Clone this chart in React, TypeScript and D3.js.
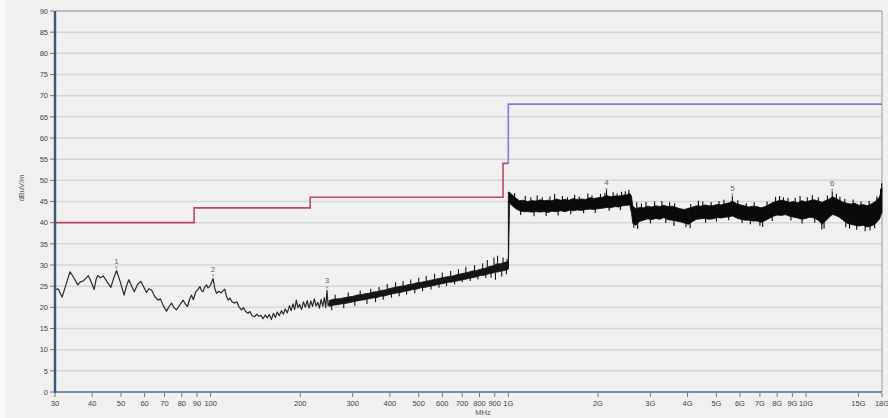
import React from "react";
import * as d3 from "d3";

// ---------- DATA ----------
const yTickValues = [0, 5, 10, 15, 20, 25, 30, 35, 40, 45, 50, 55, 60, 65, 70, 75, 80, 85, 90];
const xTickValues = [30, 40, 50, 60, 70, 80, 90, 100, 200, 300, 400, 500, 600, 700, 800, 900, 1000, 2000, 3000, 4000, 5000, 6000, 7000, 8000, 9000, 10000, 15000, 18000];
const xTickLabels = ["30", "40", "50", "60", "70", "80", "90", "100", "200", "300", "400", "500", "600", "700", "800", "900", "1G", "2G", "3G", "4G", "5G", "6G", "7G", "8G", "9G", "10G", "15G", "18G"];

// limit lines
const redLimitFreq = [30, 88, 88, 216, 216, 960, 960, 1000];
const redLimitLevel = [40, 40, 43.5, 43.5, 46, 46, 54, 54];
const blueLimitFreq = [1000, 1000, 18000];
const blueLimitLevel = [54, 68, 68];

// low-frequency trace (30 - 250 MHz)
const lowFreq = [30, 30.8, 31.7, 32.6, 33.7, 34.7, 35.8, 36.5, 37.3, 38.0, 38.8, 39.7, 40.6, 41.2, 41.7, 42.6, 43.6, 44.9, 46.2, 47.2, 48.3, 49.7, 51.2, 52.1, 53.1, 54.3, 55.4, 56.8, 58.3, 59.6, 60.9, 62.0, 63.3, 65.0, 66.6, 67.8, 69.3, 71.1, 72.5, 73.9, 75.3, 76.8, 78.8, 80.8, 82.2, 83.6, 84.9, 86.2, 87.5, 89.0, 90.5, 92.0, 93.2, 94.3, 95.5, 96.8, 98.0, 99.5, 101.9, 103.2, 104.6, 106.5, 108.5, 110.0, 111.5, 112.8, 114.4, 116.0, 118.0, 120.5, 122.5, 124.5, 126.9, 129.0, 131.0, 133.5, 135.5, 137.8, 140.6, 142.8, 145.0, 147.5, 150.0, 152.5, 155.0, 157.5, 160.0, 162.5, 165.0, 167.5, 170.0, 172.9, 175.5, 178.0, 181.0, 184.0, 186.5, 189.0, 191.5, 194.0, 196.5, 199.0, 202.0, 205.0, 208.0, 211.0, 214.0, 217.0, 220.0, 223.0, 226.0, 229.0, 232.0, 235.0, 238.0, 241.0, 243.5, 246.0, 248.0, 250.0];
const lowLevel = [24.3, 24.3, 22.4, 25.2, 28.4, 27.0, 25.3, 26.0, 26.2, 26.8, 27.5, 26.0, 24.2, 26.5, 27.5, 27.0, 27.4, 26.0, 24.7, 26.8, 28.7, 26.0, 22.9, 25.0, 26.5, 25.0, 23.7, 25.4, 26.1, 24.8, 23.5, 24.4, 24.1, 22.5, 21.7, 22.0, 20.4, 19.1, 20.2, 21.0, 19.9, 19.4, 20.6, 21.7, 20.8, 20.2, 21.8, 22.9, 21.8, 23.6, 24.2, 24.9, 23.9, 23.7, 24.8, 25.3, 24.6, 25.0, 26.8, 24.5, 23.3, 23.8, 23.4, 23.9, 24.3, 22.8, 21.7, 22.2, 21.3, 21.0, 21.3, 20.1, 19.4, 19.9, 19.0, 18.6, 19.0, 18.0, 17.8, 18.4, 17.9, 18.1, 17.3, 18.2, 17.5, 18.3, 17.1, 18.6, 17.6, 18.9, 18.0, 19.2, 18.4, 19.6, 18.7, 20.4, 19.2, 20.8, 19.5, 21.7, 19.9, 20.7, 19.5, 21.3, 20.0, 21.6, 19.8, 21.5, 20.2, 22.0, 20.3, 21.2, 19.8, 21.9, 20.2, 22.3, 19.9, 24.0, 20.4, 21.0];

// mid band envelope (250 MHz - 1 GHz)
const midFreq = [250, 258, 266, 274, 283, 292, 301, 310, 320, 330, 340, 351, 362, 373, 385, 397, 409, 422, 435, 449, 463, 477, 492, 508, 524, 540, 557, 574, 592, 611, 630, 650, 670, 691, 713, 735, 758, 782, 806, 832, 858, 885, 912, 941, 970, 1000];
const midUpper = [21.6, 21.9, 22.0, 22.1, 22.3, 22.5, 22.6, 22.9, 23.0, 23.2, 23.3, 23.6, 23.7, 24.0, 24.1, 24.4, 24.6, 24.8, 25.0, 25.1, 25.4, 25.5, 25.8, 25.9, 26.1, 26.3, 26.5, 26.7, 26.9, 27.1, 27.3, 27.4, 27.7, 27.9, 28.1, 28.3, 28.6, 28.7, 29.0, 29.2, 29.6, 29.8, 30.3, 30.3, 30.6, 30.8];
const midLower = [20.2, 20.5, 20.6, 20.8, 20.9, 21.1, 21.3, 21.5, 21.7, 21.8, 22.0, 22.2, 22.3, 22.6, 22.7, 23.0, 23.2, 23.4, 23.5, 23.8, 23.9, 24.2, 24.3, 24.6, 24.7, 24.9, 25.1, 25.3, 25.5, 25.7, 25.9, 26.0, 26.2, 26.4, 26.6, 26.8, 27.0, 27.2, 27.5, 27.6, 27.9, 28.1, 28.3, 28.5, 28.7, 29.0];
const midPeakFreq = [262, 290, 318, 345, 368, 392, 418, 443, 470, 500, 530, 565, 600, 640, 680, 720, 770, 820, 850, 895, 920, 960, 990];
const midPeakLevel = [23.0, 23.5, 24.0, 24.4, 24.8, 25.5, 25.9, 26.2, 26.6, 27.0, 27.4, 27.9, 28.2, 28.6, 29.0, 29.6, 30.0, 30.4, 31.2, 31.8, 32.2, 31.8, 31.5];
const midDipFreq = [255, 280, 305, 335, 358, 380, 405, 430, 455, 485, 515, 550, 585, 620, 660, 700, 745, 790, 840, 875, 905, 950, 985];
const midDipLevel = [19.3, 19.8, 20.3, 20.8, 21.2, 21.8, 22.3, 22.6, 23.0, 23.3, 23.8, 24.2, 24.6, 25.0, 25.4, 25.9, 26.2, 26.6, 26.9, 27.0, 26.5, 27.3, 27.8];

// high band envelope (1 GHz - 18 GHz)
const highFreq = [1000, 1010, 1030, 1060, 1090, 1120, 1160, 1200, 1240, 1280, 1320, 1360, 1400, 1450, 1500, 1550, 1600, 1650, 1700, 1760, 1820, 1880, 1940, 2000, 2070, 2140, 2210, 2280, 2350, 2430, 2510, 2560, 2590, 2620, 2680, 2760, 2850, 2940, 3030, 3130, 3230, 3330, 3440, 3550, 3660, 3780, 3900, 4030, 4160, 4290, 4430, 4570, 4720, 4870, 5030, 5190, 5360, 5530, 5660, 5840, 6030, 6220, 6420, 6630, 6840, 7060, 7290, 7520, 7760, 8010, 8270, 8540, 8810, 9090, 9380, 9680, 9990, 10300, 10640, 10980, 11330, 11690, 12070, 12250, 12460, 12860, 13270, 13700, 14140, 14590, 15060, 15550, 16050, 16560, 17090, 17640, 18000];
const highUpper = [47.2, 47.2, 46.6, 45.8, 45.2, 45.3, 45.0, 45.2, 45.1, 45.4, 45.2, 45.3, 45.2, 45.6, 45.3, 45.5, 45.3, 45.7, 45.5, 45.6, 45.5, 45.9, 45.7, 45.9, 46.0, 46.4, 46.1, 46.3, 46.3, 46.5, 46.6, 46.9, 46.3, 43.9, 43.3, 43.6, 43.5, 43.9, 43.7, 44.0, 43.8, 44.1, 43.8, 43.9, 43.6, 43.3, 43.1, 43.4, 43.7, 44.0, 43.9, 44.2, 44.0, 44.0, 44.3, 44.2, 44.5, 44.7, 45.1, 44.5, 44.2, 44.0, 43.7, 43.9, 43.8, 43.5, 43.8, 44.3, 44.8, 45.1, 45.3, 45.1, 44.8, 45.0, 44.7, 45.2, 44.9, 45.2, 45.4, 45.1, 44.8, 45.3, 45.7, 46.2, 45.9, 45.4, 44.9, 44.6, 44.4, 44.6, 44.1, 44.3, 44.0, 44.4, 45.0, 46.0, 48.0];
const highLower = [29.5, 44.6, 44.0, 43.3, 42.8, 42.6, 42.6, 42.5, 42.6, 42.5, 42.6, 42.4, 42.7, 42.6, 42.8, 42.6, 42.9, 42.8, 43.0, 42.9, 43.1, 43.2, 43.1, 43.3, 43.4, 43.6, 43.5, 43.8, 43.7, 44.0, 44.1, 44.2, 42.4, 39.8, 39.4, 40.3, 40.6, 40.9, 40.7, 41.0, 40.8, 41.2, 40.7, 40.6, 40.4, 40.2, 39.9, 39.6, 40.3, 40.8, 40.9, 41.0, 40.8, 40.9, 41.2, 41.1, 41.3, 41.4, 41.6, 41.1, 40.8, 40.6, 40.6, 40.4, 40.4, 40.1, 40.5, 41.0, 41.5, 41.8, 41.7, 41.9, 41.5, 41.3, 41.1, 40.8, 41.0, 41.3, 41.1, 40.6, 39.6, 40.6, 41.5, 41.9, 41.8, 41.4, 40.7, 39.9, 39.6, 39.4, 39.2, 39.4, 39.0, 39.2, 39.7, 40.8, 42.5];
const highPeakFreq = [1050, 1140, 1190, 1250, 1300, 1380, 1430, 1520, 1580, 1670, 1730, 1850, 1910, 2040, 2110, 2137, 2250, 2320, 2400, 2470, 2540, 2700, 2800, 2900, 3100, 3280, 3480, 3620, 4100, 4350, 4500, 4800, 5100, 5300, 5657, 5900, 6300, 6700, 7400, 7900, 8150, 8400, 8700, 9200, 9550, 10100, 10500, 11000, 11800, 12249, 12650, 13000, 13500, 14400, 15300, 16300, 17300, 17800, 17950];
const highPeakLevel = [47.0, 46.3, 46.0, 46.4, 46.0, 46.2, 46.8, 46.3, 46.0, 46.6, 46.2, 46.9, 46.4, 46.8, 47.0, 48.0, 47.2, 46.9, 47.3, 47.4, 47.8, 44.8, 44.5, 44.9, 45.0, 45.1, 44.8, 44.6, 44.4, 45.2, 45.0, 44.9, 45.1, 45.4, 46.3, 45.3, 44.6, 44.8, 45.0, 46.1, 46.3, 46.0, 45.8, 45.9, 46.3, 46.0, 46.5, 46.0, 46.4, 47.4, 46.8, 46.1, 45.6, 45.5, 45.0, 45.1, 46.2, 48.0, 49.3];
const highDipFreq = [1100, 1220, 1340, 1470, 1620, 1790, 1960, 2180, 2380, 2640, 2720, 3000, 3380, 3600, 3950, 4080, 4600, 5000, 5500, 6100, 6500, 7000, 7150, 7700, 8900, 9700, 10700, 11300, 11500, 13600, 14000, 14800, 15800, 16400, 17000];
const highDipLevel = [41.8, 41.5, 41.6, 41.7, 42.0, 42.2, 42.3, 42.8, 43.0, 38.8, 38.5, 39.8, 39.9, 39.2, 38.9, 38.7, 40.0, 40.3, 40.6, 39.9, 39.6, 39.3, 39.0, 40.4, 40.5, 39.8, 40.0, 38.4, 38.6, 38.9, 38.6, 38.3, 38.0, 38.2, 38.7];

// markers
const markerLabels = ["1", "2", "3", "4", "5", "6"];
const markerFreq = [48.3, 101.9, 246, 2137, 5657, 12249];
const markerLevel = [28.7, 26.8, 24.0, 47.2, 45.9, 47.0];

// ---------- CHART ----------
const W = 888;
const H = 418;
const L = 55, R = 882, T = 11, B = 392;
const FONT = "'Liberation Sans', Arial, sans-serif";

export default function App() {
  const x = d3.scaleLog().domain([30, 18000]).range([L, R]);
  const y = d3.scaleLinear().domain([0, 90]).range([B, T]);

  const line = d3
    .line<[number, number]>()
    .x((d) => x(d[0]))
    .y((d) => y(d[1]));
  const area = d3
    .area<[number, number, number]>()
    .x((d) => x(d[0]))
    .y0((d) => y(d[2]))
    .y1((d) => y(d[1]));

  const redPts = redLimitFreq.map((f, i) => [f, redLimitLevel[i]] as [number, number]);
  const bluePts = blueLimitFreq.map((f, i) => [f, blueLimitLevel[i]] as [number, number]);
  const lowPts = lowFreq.map((f, i) => [f, lowLevel[i]] as [number, number]);
  const midPts = midFreq.map((f, i) => [f, midUpper[i], midLower[i]] as [number, number, number]);
  const highPts = highFreq.map((f, i) => [f, highUpper[i], highLower[i]] as [number, number, number]);

  const needles = (freqs: number[], levels: number[], up: boolean, len: number, color: string, key: string) =>
    freqs.map((f, i) => {
      const px = x(f);
      const py = y(levels[i]);
      return (
        <line
          key={key + i}
          x1={px}
          x2={px}
          y1={py}
          y2={up ? py + len : py - len}
          stroke={color}
          strokeWidth={1.1}
        />
      );
    });

  return (
    <svg
      width={W}
      height={H}
      style={{ position: "absolute", left: 0, top: 0, background: "#f0f0f0" }}
      fontFamily={FONT}
    >
      <rect x={0} y={0} width={W} height={H} fill="#f0f0f0" />
      <rect x={0} y={0} width={6} height={H} fill="#f8f8f8" />

      {/* grid */}
      {yTickValues.map((v) =>
        v === 0 || v === 90 ? null : (
          <line key={"g" + v} x1={L} x2={R} y1={y(v)} y2={y(v)} stroke="#d6d6d6" strokeWidth={1.5} />
        )
      )}

      {/* frame */}
      <line x1={L} x2={R} y1={T} y2={T} stroke="#8a8a8a" strokeWidth={1} />
      <line x1={R} x2={R} y1={T} y2={B} stroke="#9a9a9a" strokeWidth={1} />

      {/* limit lines */}
      <path d={line(redPts) || ""} fill="none" stroke="#b94a60" strokeWidth={1.6} />
      <path d={line(bluePts) || ""} fill="none" stroke="#7c7ce0" strokeWidth={1.6} />

      {/* trace */}
      <path d={line(lowPts) || ""} fill="none" stroke="#2a2a2a" strokeWidth={1.2} strokeLinejoin="round" />
      <path d={area(midPts) || ""} fill="#151515" stroke="#151515" strokeWidth={0.8} />
      {needles(midPeakFreq, midPeakLevel, true, 7, "#151515", "mp")}
      {needles(midDipFreq, midDipLevel, false, 7, "#151515", "md")}
      <path d={area(highPts) || ""} fill="#0a0a0a" stroke="#0a0a0a" strokeWidth={0.8} />
      {needles(highPeakFreq, highPeakLevel, true, 9, "#0a0a0a", "hp")}
      {needles(highDipFreq, highDipLevel, false, 9, "#0a0a0a", "hd")}

      {/* markers */}
      {markerFreq.map((f, i) => {
        const px = x(f);
        const py = y(markerLevel[i]);
        return (
          <g key={"m" + i}>
            <path d={`M${px - 1.5},${py - 4} L${px + 1.5},${py - 4} L${px},${py - 1.5} Z`} fill="#9a9a9a" />
            <text x={px} y={py - 7} fontSize={8} fill="#666" textAnchor="middle">
              {markerLabels[i]}
            </text>
          </g>
        );
      })}

      {/* axes */}
      <line x1={L} x2={R} y1={B} y2={B} stroke="#4d6f91" strokeWidth={1.6} />
      <line x1={L} x2={L} y1={T} y2={B + 1} stroke="#36597d" strokeWidth={2.4} />

      {yTickValues.map((v) => (
        <g key={"yt" + v}>
          <line x1={L - 5} x2={L - 1} y1={y(v)} y2={y(v)} stroke="#777" strokeWidth={1} />
          <text x={L - 7} y={y(v) + 2.8} fontSize={7.5} fill="#444" textAnchor="end">
            {v}
          </text>
        </g>
      ))}

      {xTickValues.map((v, i) => (
        <g key={"xt" + v}>
          <line x1={x(v)} x2={x(v)} y1={B + 1} y2={B + 5} stroke="#777" strokeWidth={1} />
          <text x={x(v)} y={B + 14} fontSize={7.5} fill="#444" textAnchor="middle">
            {xTickLabels[i]}
          </text>
        </g>
      ))}

      <text x={483} y={415} fontSize={7.5} fill="#555" textAnchor="middle">
        MHz
      </text>
      <text
        x={0}
        y={0}
        fontSize={7.5}
        fill="#555"
        textAnchor="middle"
        transform={`translate(24,188) rotate(-90)`}
      >
        dBuV/m
      </text>
    </svg>
  );
}
